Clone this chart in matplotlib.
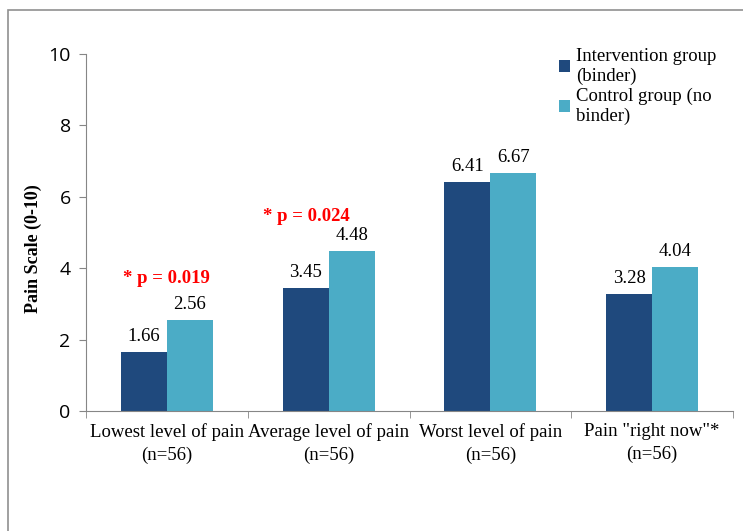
import matplotlib.pyplot as plt
import numpy as np

plt.rcParams['font.family'] = ['Liberation Serif']

categories = ['Lowest level of pain\n(n=56)', 'Average level of pain\n(n=56)',
              'Worst level of pain\n(n=56)', 'Pain "right now"*\n(n=56)']
intervention = [1.66, 3.45, 6.41, 3.28]
control = [2.56, 4.48, 6.67, 4.04]
series_names = ['Intervention group\n(binder)', 'Control group (no\nbinder)']
p_labels = ['* p = 0.019', '* p = 0.024']
p_pos = [(0.0, 3.7), (0.86, 5.45)]

dark = '#1F497D'
light = '#4BACC6'

fig = plt.figure(figsize=(7.43, 5.31), dpi=100)
ax = fig.add_axes([86/743, 1 - 411/531, (733-86)/743, (411-54)/531])

# figure border
fig.patches.append(plt.Rectangle((8/743, -0.1), 1.1, 1 - 10/531 + 0.1, transform=fig.transFigure,
                                 fill=False, edgecolor='#909090', linewidth=1.2))

x = np.arange(len(categories))
w = 0.285
b1 = ax.bar(x - w/2, intervention, w, color=dark, label=series_names[0])
b2 = ax.bar(x + w/2, control, w, color=light, label=series_names[1])

for bars in (b1, b2):
    for rect in bars:
        h = rect.get_height()
        ax.annotate('%.2f' % h, (rect.get_x() + rect.get_width()/2, h), xytext=(0, 5),
                    textcoords='offset points', ha='center', va='bottom', fontsize=13.5)

for txt, (px, py) in zip(p_labels, p_pos):
    ax.text(px, py, txt, color='#FF0000', fontweight='bold', fontsize=13.5,
            ha='center', va='center')

ax.set_xlim(-0.5, 3.5)
ax.set_ylim(0, 10)
ax.set_yticks(range(0, 11, 2))
ax.set_xticks(x)
ax.set_xticks(np.arange(-0.5, 4, 1), minor=True)
ax.tick_params(axis='x', which='major', length=0, pad=9)
ax.tick_params(axis='x', which='minor', length=5, color='#868686')
ax.tick_params(axis='y', length=5, color='#868686', pad=6)
ax.set_xticklabels(categories, fontsize=13.5, linespacing=1.4)
ax.set_yticklabels([str(v) for v in range(0, 11, 2)], family='Open Sans', fontsize=14)

for s in ('top', 'right'):
    ax.spines[s].set_visible(False)
for s in ('left', 'bottom'):
    ax.spines[s].set_color('#868686')

ax.set_ylabel('Pain Scale (0-10)', fontweight='bold', fontsize=13)
ax.yaxis.set_label_coords(-0.068, 0.454)

leg = ax.legend(loc='upper left', bbox_to_anchor=(0.705, 1.065), frameon=False,
                prop={'size': 13.5}, handlelength=0.6, handleheight=0.6,
                handletextpad=0.3, labelspacing=0.15)

fig.savefig('out.png', dpi=100)
